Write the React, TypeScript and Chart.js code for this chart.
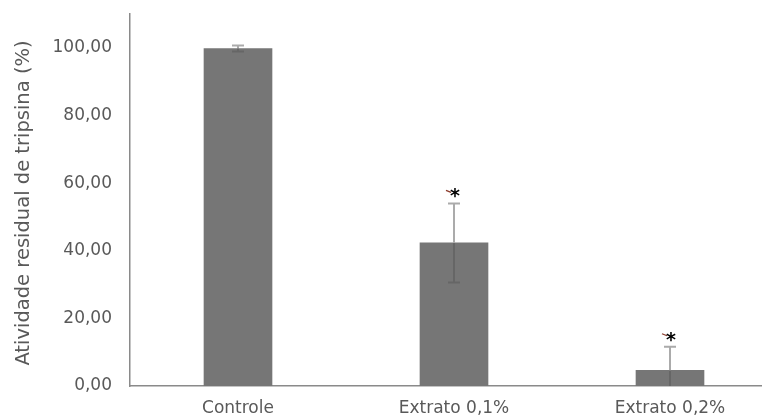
import React, { useEffect, useRef } from "react";
import { Chart, registerables } from "chart.js";

Chart.register(...registerables);

const categories = ["Controle", "Extrato 0,1%", "Extrato 0,2%"];
const values = [99.8, 42.3, 4.6];
const errors = [0.9, 11.7, 7.0];
const significance = ["", "*", "*"];
const yTicks = [0, 20, 40, 60, 80, 100];
const yTitle = "Atividade residual de tripsina (%)";

const FONT = "'DejaVu Sans', 'Liberation Sans', Arial, sans-serif";
const TEXT = "#595959";

const errorBarPlugin = {
  id: "errorBars",
  afterDatasetsDraw(chart: any) {
    const ctx = chart.ctx;
    const meta = chart.getDatasetMeta(0);
    const y = chart.scales.y;
    ctx.save();
    meta.data.forEach((el: any, i: number) => {
      const v = values[i];
      const e = errors[i];
      const x = el.x;
      const yTop = y.getPixelForValue(v + e);
      const lowV = v - e;
      const yLow = y.getPixelForValue(Math.max(lowV, 0));
      const yBar = y.getPixelForValue(v);
      const cap = 6;
      ctx.lineWidth = 2;
      ctx.strokeStyle = "#ababab";
      ctx.beginPath();
      ctx.moveTo(x, yTop);
      ctx.lineTo(x, yBar);
      ctx.moveTo(x - cap, yTop);
      ctx.lineTo(x + cap, yTop);
      ctx.stroke();
      ctx.strokeStyle = "#666666";
      ctx.beginPath();
      ctx.moveTo(x, yBar);
      ctx.lineTo(x, yLow);
      if (lowV >= 0) {
        ctx.moveTo(x - cap, yLow);
        ctx.lineTo(x + cap, yLow);
      }
      ctx.stroke();
      if (significance[i]) {
        const sy = yTop - 10;
        ctx.strokeStyle = "#8b3a2a";
        ctx.lineWidth = 1.2;
        ctx.beginPath();
        ctx.moveTo(x - 8, sy - 3);
        ctx.lineTo(x - 3, sy - 1);
        ctx.stroke();
        ctx.fillStyle = "#000000";
        ctx.font = `bold 19px ${FONT}`;
        ctx.textAlign = "center";
        ctx.textBaseline = "middle";
        ctx.fillText(significance[i], x + 1, sy + 4);
      }
    });
    ctx.fillStyle = TEXT;
    ctx.font = `19.5px ${FONT}`;
    ctx.textAlign = "center";
    ctx.textBaseline = "middle";
    ctx.translate(24, 203);
    ctx.rotate(-Math.PI / 2);
    ctx.fillText(yTitle, 0, 0);
    ctx.restore();
  },
};

export default function App() {
  const ref = useRef<HTMLCanvasElement | null>(null);
  useEffect(() => {
    if (!ref.current) return;
    const chart = new Chart(ref.current, {
      type: "bar",
      data: {
        labels: categories,
        datasets: [
          {
            data: values,
            backgroundColor: "#767676",
            borderWidth: 0,
            barThickness: 68,
          },
        ],
      },
      options: {
        animation: false,
        responsive: true,
        maintainAspectRatio: false,
        layout: { padding: { left: 0, right: 22, top: 14, bottom: 0 } },
        plugins: {
          legend: { display: false },
          tooltip: { enabled: false },
          title: { display: false },
        },
        scales: {
          x: {
            grid: { display: false, drawTicks: false },
            border: { display: true, color: "#8a8a8a", width: 1.5 },
            ticks: {
              color: TEXT,
              font: { family: FONT, size: 17 },
              padding: 12,
            },
            afterFit: (s: any) => {
              s.height = 31;
              s.paddingLeft = 0;
              s.paddingRight = 0;
            },
          },
          y: {
            min: 0,
            max: 110,
            grid: { display: false, drawTicks: false },
            border: { display: true, color: "#8a8a8a", width: 1.5 },
            ticks: {
              stepSize: 20,
              color: TEXT,
              font: { family: FONT, size: 17 },
              padding: 18,
              callback: (v: any) => Number(v).toFixed(2).replace(".", ","),
            },
            afterBuildTicks: (axis: any) => {
              axis.ticks = yTicks.map((t) => ({ value: t }));
            },
            afterFit: (s: any) => {
              s.width = 130;
              s.paddingTop = 0;
              s.paddingBottom = 0;
            },
          },
        },
      },
      plugins: [errorBarPlugin],
    });
    return () => chart.destroy();
  }, []);

  return (
    <div
      style={{
        position: "fixed",
        left: 0,
        top: 0,
        width: 762,
        height: 417,
        overflow: "hidden",
        background: "#ffffff",
      }}
    >
      <div style={{ position: "absolute", left: 0, top: 0, width: 800, height: 417 }}>
        <canvas ref={ref} />
      </div>
    </div>
  );
}
